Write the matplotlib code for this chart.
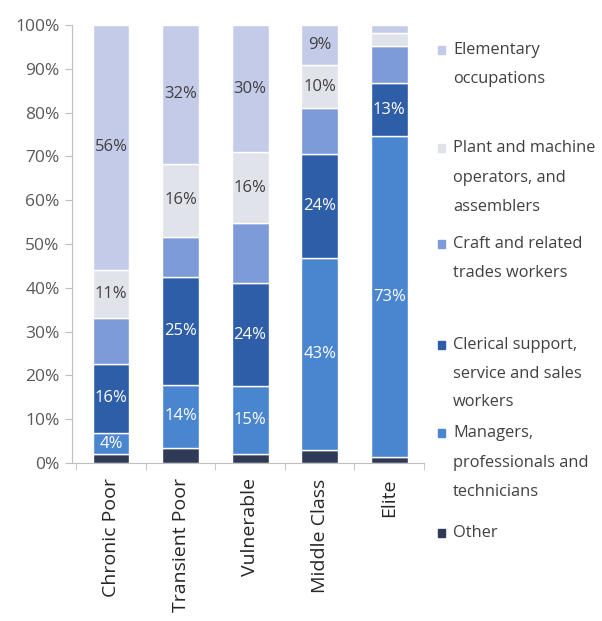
import matplotlib.pyplot as plt
import numpy as np

plt.rcParams['font.family'] = ['Open Sans', 'DejaVu Sans']

# groups along the x axis
categories = ['Chronic Poor', 'Transient Poor', 'Vulnerable', 'Middle Class', 'Elite']

# shares (%), bottom segment first
other = [2.1, 3.4, 2.1, 3.0, 1.3]
managers = [4.7, 14.5, 15.4, 43.9, 73.4]
clerical = [15.9, 24.5, 23.6, 23.6, 12.0]
craft = [10.5, 9.2, 13.7, 10.5, 8.4]
plant = [10.9, 16.7, 16.1, 9.9, 3.0]
elementary = [55.9, 31.7, 29.1, 9.1, 1.9]

# labels printed in the bars ('' = none shown)
managers_lbl = ['4%', '14%', '15%', '43%', '73%']
clerical_lbl = ['16%', '25%', '24%', '24%', '13%']
plant_lbl = ['11%', '16%', '16%', '10%', '']
elementary_lbl = ['56%', '32%', '30%', '9%', '']

series = [
    ('Other', other, '#2e3a56', None, 'white'),
    ('Managers,\nprofessionals and\ntechnicians', managers, '#4a85d0', managers_lbl, 'white'),
    ('Clerical support,\nservice and sales\nworkers', clerical, '#2f5ea8', clerical_lbl, 'white'),
    ('Craft and related\ntrades workers', craft, '#7d9bd8', None, 'white'),
    ('Plant and machine\noperators, and\nassemblers', plant, '#e1e3ea', plant_lbl, '#404040'),
    ('Elementary\noccupations', elementary, '#c4cbe8', elementary_lbl, '#404040'),
]

W, H = 602, 621
fig = plt.figure(figsize=(W / 100, H / 100), dpi=100)
ax = fig.add_axes([72 / W, 1 - 463 / H, 352 / W, 438 / H])

x = np.arange(len(categories))
bottom = np.zeros(len(categories))
for name, vals, color, lbls, tcol in series:
    vals = np.array(vals)
    bars = ax.bar(x, vals, 0.53, bottom=bottom, color=color,
                  edgecolor='white', linewidth=1.0)
    if lbls is not None:
        ax.bar_label(bars, labels=lbls, label_type='center', color=tcol,
                     fontsize=12)
    bottom += vals

ax.set_xlim(-0.56, 4.5)
ax.set_ylim(0, 100)
ax.set_yticks(np.arange(0, 101, 10))
ax.set_yticklabels([f'{v}%' for v in range(0, 101, 10)], fontsize=12.5,
                   color='#595959')
ax.set_xticks(x)
ax.set_xticklabels(categories, rotation=90, fontsize=14, color='#262626')
ax.set_xticks(np.arange(-0.5, 5, 1), minor=True)
ax.tick_params(axis='x', which='major', length=0, pad=11)
ax.tick_params(axis='x', which='minor', length=5, color='#bfbfbf')
ax.tick_params(axis='y', length=5, color='#bfbfbf', pad=4)
for s in ['top', 'right']:
    ax.spines[s].set_visible(False)
for s in ['left', 'bottom']:
    ax.spines[s].set_color('#bfbfbf')

# legend drawn by hand to follow the original spacing
legend_rows = [
    (series[5], [50, 79]),
    (series[4], [148, 178, 207]),
    (series[3], [244, 273]),
    (series[2], [345, 374, 402]),
    (series[1], [433, 463, 492]),
    (series[0], [533]),
]
for (name, vals, color, lbls, tcol), ys in legend_rows:
    fig.patches.append(plt.Rectangle((438 / W, 1 - (ys[0] + 4) / H), 7 / W, 8 / H,
                                     transform=fig.transFigure, color=color))
    for line, yy in zip(name.split('\n'), ys):
        fig.text(453 / W, 1 - yy / H, line, fontsize=11.8, color='#404040',
                 va='center', ha='left')

fig.savefig('out.png', dpi=100)
